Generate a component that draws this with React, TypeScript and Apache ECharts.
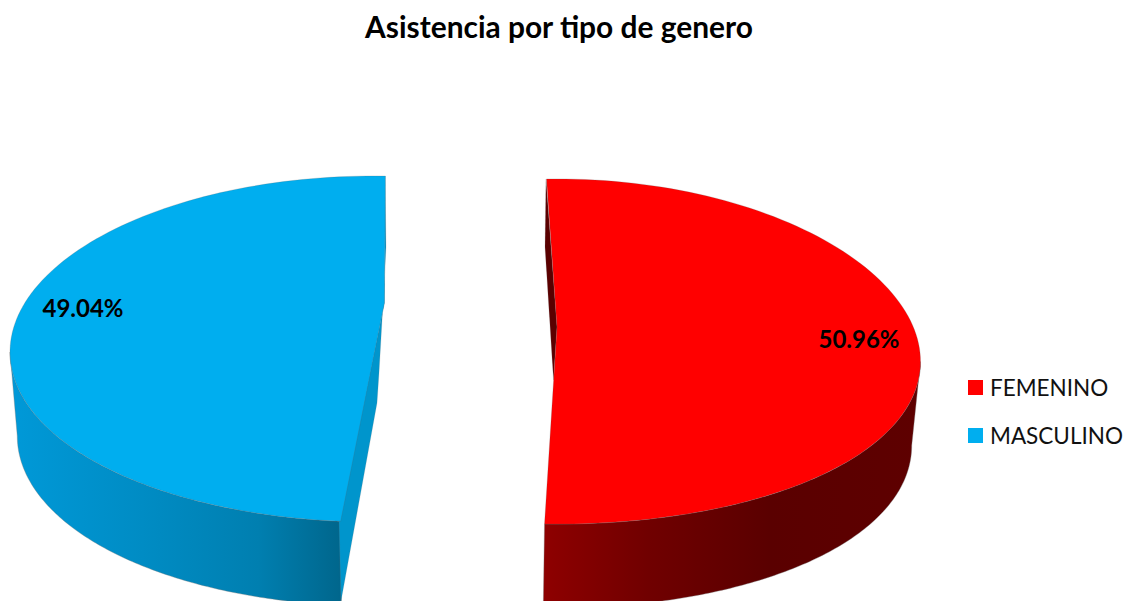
import React, { useEffect, useRef } from "react";
import * as echarts from "echarts";

const titleText = "Asistencia por tipo de genero";
const categories = ["FEMENINO", "MASCULINO"];
const shares = [50.96, 49.04];
const faceColors = ["#ff0000", "#00aeef"];

const FONT = "Lato, Carlito, sans-serif";
const DEPTH = 84;
const RX = 364;
const BASE_RX_RATIO = 0.98;

type Geo = {
  cx: number; baseCx: number; cy: number; ry: number; droop: number;
  startDeg: number | null; endDeg: number | null;
  apex: [number, number];
  wallFrom: number;
  inner: [number, number][];
  wallStops: [number, string][];
  innerColor: string;
  label: [number, number];
};

const geometry: Geo[] = [
  {
    cx: 556.5, baseCx: 555, cy: 351.5, ry: 172.6, droop: 10,
    startDeg: -1.57, endDeg: null,
    apex: [557, 327],
    wallFrom: 90,
    inner: [[546, 179], [545, 247], [553.5, 380], [557, 327]],
    wallStops: [[0, "#8e0000"], [0.28, "#700000"], [0.6, "#5a0000"], [1, "#5e0000"]],
    innerColor: "#5a0000",
    label: [859, 338],
  },
  {
    cx: 374, baseCx: 374, cy: 349, ry: 173, droop: 3,
    startDeg: null, endDeg: 361.8,
    apex: [384.4, 303],
    wallFrom: 270,
    inner: [[385, 176], [386, 247], [383, 303], [379, 373], [377, 403], [341, 601], [339, 521], [384.4, 303]],
    wallStops: [[0, "#0099d8"], [0.4, "#008cc4"], [0.75, "#007fb0"], [1, "#00668c"]],
    innerColor: "#0095cc",
    label: [83, 307],
  },
];

function arc(cx: number, cy: number, rx: number, ry: number, droop: number, a: number, b: number) {
  const n = 120;
  const pts: number[][] = [];
  for (let i = 0; i <= n; i++) {
    const t = ((a + ((b - a) * i) / n) * Math.PI) / 180;
    const s = Math.sin(t);
    pts.push([cx + rx * s, cy - ry * Math.cos(t) + droop * s * s]);
  }
  return pts;
}

function renderSlice(index: number) {
  const g = geometry[index];
  const total = shares.reduce((s, v) => s + v, 0);
  const sweep = (shares[index] / total) * 360;
  const start = g.startDeg !== null ? g.startDeg : (g.endDeg as number) - sweep;
  const end = g.endDeg !== null ? g.endDeg : (g.startDeg as number) + sweep;
  const face = arc(g.cx, g.cy, RX, g.ry, g.droop, start, end);
  const wallTopA = index === 0 ? g.wallFrom : start;
  const wallTopB = index === 0 ? end : g.wallFrom;
  const wallTop = arc(g.cx, g.cy, RX, g.ry, g.droop, wallTopA, wallTopB);
  const wallBase = arc(g.baseCx, g.cy + DEPTH, RX * BASE_RX_RATIO, g.ry, g.droop, wallTopA, wallTopB).reverse();
  const stops = g.wallStops.map(([offset, color]) => ({ offset, color }));
  return {
    type: "group",
    children: [
      {
        type: "polygon",
        shape: { points: wallTop.concat(wallBase) },
        style: {
          fill: new echarts.graphic.LinearGradient(0, 0, 1, 0, stops),
          stroke: "rgba(120,120,120,0.35)",
          lineWidth: 1,
        },
      },
      {
        type: "polygon",
        shape: { points: g.inner },
        style: { fill: g.innerColor, stroke: "rgba(120,120,120,0.3)", lineWidth: 0.6 },
      },
      {
        type: "polygon",
        shape: { points: face.concat([g.apex]) },
        style: { fill: faceColors[index], stroke: "rgba(90,90,90,0.25)", lineWidth: 0.8 },
      },
      {
        type: "text",
        x: g.label[0],
        y: g.label[1],
        style: {
          text: shares[index].toFixed(2) + "%",
          fill: "#000000",
          font: `bold 24px ${FONT}`,
          align: "center",
          verticalAlign: "middle",
        },
      },
    ],
  };
}

export default function App() {
  const ref = useRef<HTMLDivElement>(null);
  useEffect(() => {
    document.body.style.margin = "0";
    const chart = echarts.init(ref.current as HTMLDivElement, null, { renderer: "svg" });
    chart.setOption({
      animation: false,
      backgroundColor: "#ffffff",
      title: {
        text: titleText,
        left: 554,
        top: 6,
        textAlign: "center",
        textStyle: { fontFamily: FONT, fontSize: 29.9, fontWeight: "bold", color: "#000000" },
      },
      legend: {
        orient: "vertical",
        left: 968,
        top: 375.5,
        padding: 0,
        itemWidth: 15,
        itemHeight: 15,
        itemGap: 24,
        icon: "rect",
        data: categories,
        textStyle: { fontFamily: FONT, fontSize: 22.5, lineHeight: 24, color: "#111111", padding: [0, 0, 0, 2] },
        selectedMode: false,
      },
      series: categories.map((name, i) => ({
        type: "custom",
        name,
        coordinateSystem: "none",
        data: [shares[i]],
        itemStyle: { color: faceColors[i] },
        renderItem: () => renderSlice(i),
      })),
    });
    return () => chart.dispose();
  }, []);
  return <div ref={ref} style={{ width: 1130, height: 601 }} />;
}
